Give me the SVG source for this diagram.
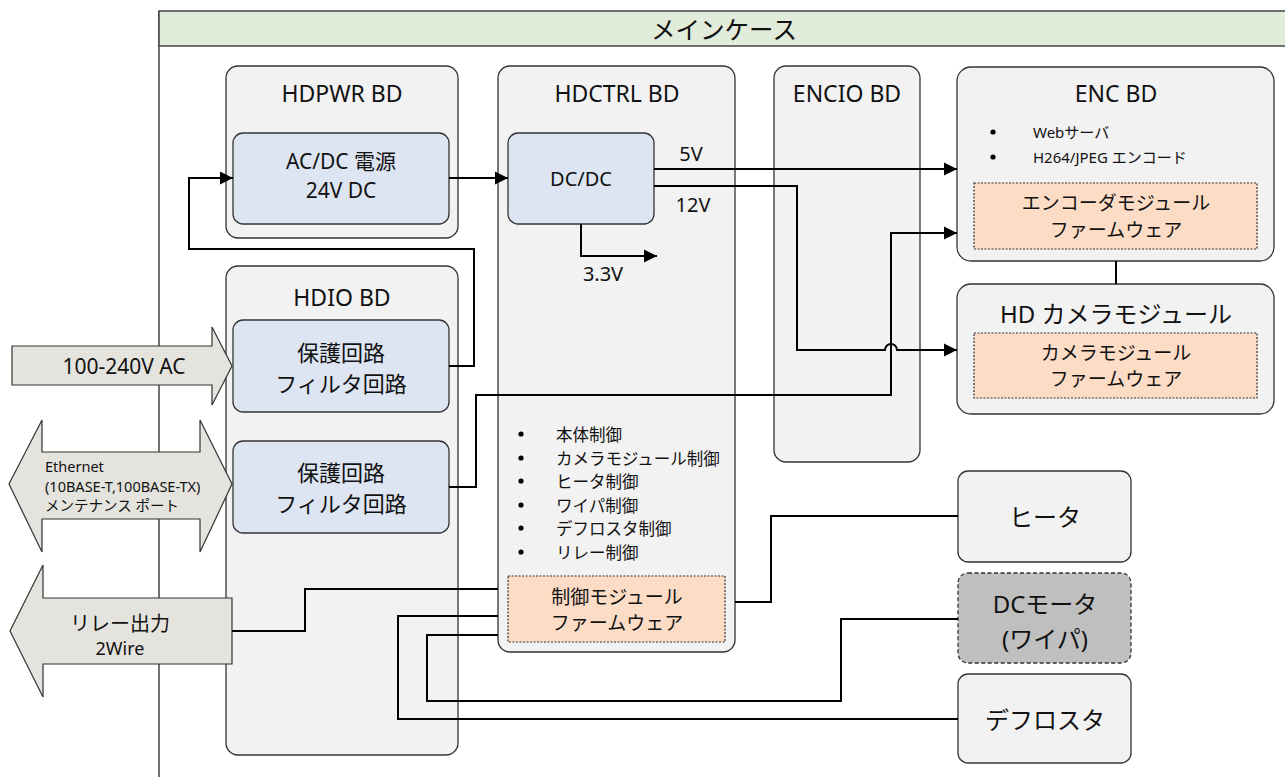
<svg xmlns="http://www.w3.org/2000/svg" width="1285" height="777" viewBox="0 0 1285 777">
<style>
text{font-family:"Noto Sans","Noto Sans CJK JP",sans-serif;fill:#111;text-anchor:middle;dominant-baseline:central}
.board{fill:#f2f2f2;stroke:#333;stroke-width:1.3}
.inner{fill:#dde5f2;stroke:#333;stroke-width:1.3}
.fw{fill:#fddcc6;stroke:#333;stroke-width:1.2;stroke-dasharray:2 1.5}
.big{fill:#e5e3dd;stroke:#333;stroke-width:1.2}
.ttl{font-size:23px}
.lbl{font-size:21px}
.prot{font-size:22px}
.fwt{font-size:19px}
.bul{font-size:16.5px;text-anchor:start}
.enc{font-size:15px;text-anchor:start}
.dev{font-size:24px}
.wire{fill:none;stroke:#000;stroke-width:2}
.volt{font-size:20px}
.eth{font-size:14.5px;text-anchor:start}
</style>
<defs>
<marker id="ah" markerUnits="userSpaceOnUse" markerWidth="14" markerHeight="14" viewBox="0 0 14 14" refX="13" refY="7" orient="auto">
<path d="M0,0.5 L13,7 L0,13.5 Z" fill="#000"/>
</marker>
</defs>

<g id="main-case">
<line x1="159" y1="11" x2="159" y2="777" stroke="#444" stroke-width="1.5"/>
<rect x="159" y="11" width="1130" height="35" fill="#e2ecda" stroke="#444" stroke-width="1.5"/>
<text x="724" y="29" style="font-size:24.5px">メインケース</text>
</g>

<g id="hdpwr">
<rect class="board" x="226" y="66" width="232" height="172" rx="12"/>
<text class="ttl" x="342" y="93">HDPWR BD</text>
</g>
<g id="acdc">
<rect class="inner" x="233" y="133" width="216" height="91" rx="10"/>
<text class="lbl" x="341" y="161">AC/DC 電源</text>
<text class="lbl" x="341" y="190">24V DC</text>
</g>

<g id="hdctrl">
<rect class="board" x="498" y="66" width="237" height="586" rx="12"/>
<text class="ttl" x="617" y="93">HDCTRL BD</text>
<g fill="#000"><circle cx="521" cy="434" r="2.6"/><circle cx="521" cy="458" r="2.6"/><circle cx="521" cy="481" r="2.6"/><circle cx="521" cy="505" r="2.6"/><circle cx="521" cy="528" r="2.6"/><circle cx="521" cy="552" r="2.6"/></g>
<text class="bul" x="556" y="434">本体制御</text>
<text class="bul" x="556" y="458">カメラモジュール制御</text>
<text class="bul" x="556" y="481">ヒータ制御</text>
<text class="bul" x="556" y="505">ワイパ制御</text>
<text class="bul" x="556" y="528">デフロスタ制御</text>
<text class="bul" x="556" y="552">リレー制御</text>
</g>
<g id="dcdc">
<rect class="inner" x="508" y="133" width="146" height="91" rx="10"/>
<text class="volt" x="581" y="178">DC/DC</text>
</g>
<g id="ctrl-fw">
<rect class="fw" x="508" y="576" width="217" height="66"/>
<text class="fwt" x="617" y="597">制御モジュール</text>
<text class="fwt" x="617" y="623">ファームウェア</text>
</g>

<g id="encio">
<rect class="board" x="774" y="66" width="146" height="396" rx="12"/>
<text class="ttl" x="847" y="93">ENCIO BD</text>
</g>

<g id="encbd">
<rect class="board" x="957" y="67" width="317" height="194" rx="14"/>
<text class="ttl" x="1116" y="93">ENC BD</text>
<circle cx="993" cy="132" r="2.6" fill="#000"/>
<circle cx="993" cy="157" r="2.6" fill="#000"/>
<text class="enc" x="1033" y="132">Webサーバ</text>
<text class="enc" x="1033" y="157">H264/JPEG エンコード</text>
</g>
<g id="enc-fw">
<rect class="fw" x="974" y="183" width="283" height="66"/>
<text class="fwt" x="1116" y="203">エンコーダモジュール</text>
<text class="fwt" x="1116" y="230">ファームウェア</text>
</g>

<g id="camera">
<rect class="board" x="957" y="284" width="317" height="130" rx="14"/>
<text class="dev" x="1116" y="313">HD カメラモジュール</text>
</g>
<g id="cam-fw">
<rect class="fw" x="974" y="333" width="283" height="65"/>
<text class="fwt" x="1116" y="353">カメラモジュール</text>
<text class="fwt" x="1116" y="379">ファームウェア</text>
</g>

<g id="hdio">
<rect class="board" x="226" y="266" width="232" height="489" rx="12"/>
<text class="ttl" x="342" y="297">HDIO BD</text>
</g>
<g id="prot1">
<rect class="inner" x="233" y="320" width="216" height="92" rx="10"/>
<text class="prot" x="341" y="352">保護回路</text>
<text class="prot" x="341" y="383">フィルタ回路</text>
</g>
<g id="prot2">
<rect class="inner" x="233" y="441" width="216" height="92" rx="10"/>
<text class="prot" x="341" y="472">保護回路</text>
<text class="prot" x="341" y="503">フィルタ回路</text>
</g>

<g id="heater">
<rect class="board" x="958" y="471" width="173" height="91" rx="10"/>
<text class="dev" x="1045" y="516">ヒータ</text>
</g>
<g id="dcmotor">
<rect x="958" y="573" width="173" height="90" rx="10" fill="#bfbfbf" stroke="#333" stroke-width="1.3" stroke-dasharray="4 2.5"/>
<text class="dev" x="1045" y="603">DCモータ</text>
<text class="dev" x="1045" y="638">(ワイパ)</text>
</g>
<g id="defroster">
<rect class="board" x="958" y="674" width="173" height="89" rx="10"/>
<text class="dev" x="1045" y="719">デフロスタ</text>
</g>

<g id="ac-input">
<path class="big" d="M12,346 H212 V327 L232,366 L212,405 V385 H12 Z"/>
<text x="124" y="366" style="font-size:21px">100-240V AC</text>
</g>
<g id="ethernet">
<path class="big" d="M9,484 L42,420 V452 H200 V420 L232,484 L200,552 V519 H42 V552 Z"/>
<text class="eth" x="45" y="466">Ethernet</text>
<text class="eth" x="45" y="486">(10BASE-T,100BASE-TX)</text>
<text class="eth" x="45" y="505">メンテナンス ポート</text>
</g>
<g id="relay-out">
<path class="big" d="M10,631 L43,565 V598 H232 V664 H43 V697 Z"/>
<text x="120" y="623" style="font-size:20px">リレー出力</text>
<text x="120" y="648" style="font-size:18px">2Wire</text>
</g>

<g id="connectors">
<path class="wire" d="M449,178 H508" marker-end="url(#ah)"/>
<path class="wire" d="M449,366 H474 V249 H189 V178 H233" marker-end="url(#ah)"/>
<path class="wire" d="M654,169 H957" marker-end="url(#ah)"/>
<path class="wire" d="M654,186 H797 V350 H885 A6,6 0 0 1 897,350 H957" marker-end="url(#ah)"/>
<path class="wire" d="M581,224 V256 H657" marker-end="url(#ah)"/>
<path class="wire" d="M449,487 H476 V395 H891 V233 H957" marker-end="url(#ah)"/>
<path class="wire" d="M232,631 H305 V589 H498"/>
<path class="wire" d="M498,616 H398 V719 H958"/>
<path class="wire" d="M498,635 H427 V701 H841 V619 H958"/>
<path class="wire" d="M735,602 H771 V516 H958"/>
<path class="wire" d="M1116,261 V284"/>
<text class="volt" x="691" y="153">5V</text>
<text class="volt" x="693" y="204">12V</text>
<text class="volt" x="603" y="273">3.3V</text>
</g>
</svg>
